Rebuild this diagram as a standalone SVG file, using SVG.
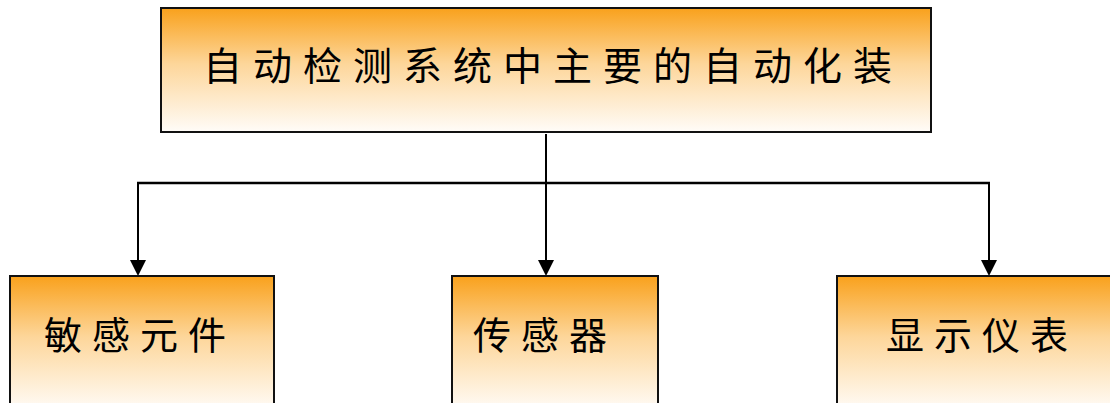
<svg xmlns="http://www.w3.org/2000/svg" width="1110" height="403" viewBox="0 0 1110 403">
<defs>
<linearGradient id="g" x1="0" y1="0" x2="0" y2="1">
<stop offset="0" stop-color="#F9A11C"/>
<stop offset="0.45" stop-color="#FDD69A"/>
<stop offset="1" stop-color="#FFFCF8"/>
</linearGradient>
</defs>
<style>
.box{fill:url(#g);stroke:#111;stroke-width:2}
.t{font-family:"Noto Sans CJK SC","Noto Sans CJK JP",sans-serif;fill:#000;text-anchor:middle}
.c{stroke:#000;fill:none}
</style>
<rect width="1110" height="403" fill="#fff"/>
<g id="connectors">
<line class="c" x1="546" y1="134" x2="546" y2="183" stroke-width="2"/>
<line class="c" x1="137" y1="183" x2="990" y2="183" stroke-width="2.5"/>
<path class="c" d="M138,183 V260" stroke-width="2"/>
<path class="c" d="M546,183 V260" stroke-width="2"/>
<path class="c" d="M989,183 V260" stroke-width="2"/>
<path d="M130,260 L146,260 L138,276 Z" fill="#000"/>
<path d="M538,260 L554,260 L546,276 Z" fill="#000"/>
<path d="M981,260 L997,260 L989,276 Z" fill="#000"/>
</g>
<g id="top">
<rect class="box" x="161" y="8" width="770" height="124"/>
<text class="t" x="553" y="80" font-size="39" letter-spacing="11">自动检测系统中主要的自动化装</text>
</g>
<g id="n1">
<rect class="box" x="10" y="276" width="264" height="135"/>
<text class="t" x="140" y="349" font-size="38" letter-spacing="10">敏感元件</text>
</g>
<g id="n2">
<rect class="box" x="452" y="276" width="206" height="135"/>
<text class="t" x="545" y="349" font-size="38" letter-spacing="10">传感器</text>
</g>
<g id="n3">
<rect class="box" x="837" y="276" width="280" height="135"/>
<text class="t" x="982" y="349" font-size="38" letter-spacing="10">显示仪表</text>
</g>
</svg>
